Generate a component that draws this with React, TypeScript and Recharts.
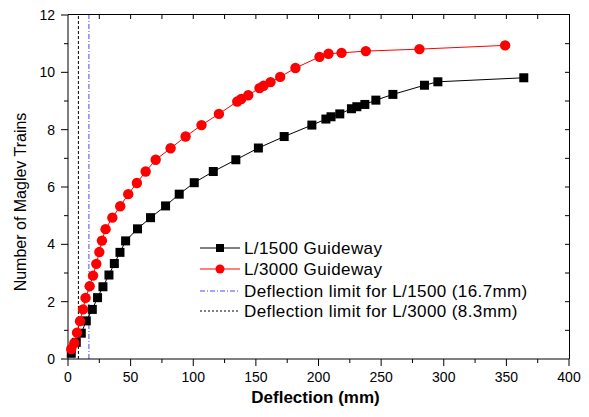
import React from 'react';
import { LineChart, Line, XAxis, YAxis, ReferenceLine } from 'recharts';

// L/1500 guideway (black squares)
const l1500X = [2.6, 6.6, 10.6, 14.6, 19.4, 23.6, 27.9, 32.7, 37, 41.5, 46, 55.5, 65.9, 77.9, 88.8, 100.8, 116, 134, 152, 172.6, 194.7, 205.9, 210, 217, 226.3, 230.6, 237, 245.8, 259.4, 284.6, 295.3, 363.9];
const l1500Y = [0.2, 0.58, 0.9, 1.33, 1.73, 2.14, 2.52, 2.93, 3.33, 3.72, 4.12, 4.54, 4.93, 5.34, 5.75, 6.15, 6.54, 6.95, 7.36, 7.76, 8.16, 8.37, 8.45, 8.55, 8.73, 8.8, 8.88, 9.03, 9.23, 9.55, 9.67, 9.81];

// L/3000 guideway (red circles)
const l3000X = [2.6, 5, 7.2, 9.6, 12, 14, 17.3, 20, 22.6, 25, 27.1, 30, 35.4, 41.7, 48.1, 55, 62, 70, 81.9, 93.9, 106.6, 120.5, 135.1, 138.3, 143.9, 152.9, 156.1, 161.7, 169.4, 181.6, 200.8, 208, 218.4, 237.8, 280.6, 349];
const l3000Y = [0.35, 0.55, 0.92, 1.32, 1.73, 2.13, 2.54, 2.91, 3.32, 3.73, 4.13, 4.53, 4.93, 5.33, 5.75, 6.14, 6.54, 6.95, 7.35, 7.76, 8.16, 8.55, 8.98, 9.07, 9.2, 9.45, 9.53, 9.66, 9.84, 10.15, 10.54, 10.65, 10.68, 10.74, 10.81, 10.94];

// Deflection limits (mm)
const limit1500 = 16.7;
const limit3000 = 8.3;

const X_MAX = 400;
const Y_MAX = 12;
const xTicks = [0, 25, 50, 75, 100, 125, 150, 175, 200, 225, 250, 275, 300, 325, 350, 375, 400];
const yTicks = [0, 1, 2, 3, 4, 5, 6, 7, 8, 9, 10, 11, 12];

const legendItems = [
  'L/1500 Guideway',
  'L/3000 Guideway',
  'Deflection limit for L/1500 (16.7mm)',
  'Deflection limit for L/3000 (8.3mm)',
];

const FONT = '"Liberation Sans", Arial, sans-serif';

const data1500 = l1500X.map((x, i) => ({ x, y: l1500Y[i] }));
const data3000 = l3000X.map((x, i) => ({ x, y: l3000Y[i] }));

// тики снизу: большие с подписью каждые 50, маленькие между
const BottomTick = (props: any) => {
  const { x, y, payload } = props;
  const major = payload.value % 50 === 0;
  return (
    <g>
      <line x1={x} x2={x} y1={y} y2={y + (major ? 7 : 4)} stroke="#000" />
      {major && (
        <text x={x} y={y + 23} textAnchor="middle" fontSize={14} fontFamily={FONT} fill="#000">
          {payload.value}
        </text>
      )}
    </g>
  );
};

const LeftTick = (props: any) => {
  const { x, y, payload } = props;
  const major = payload.value % 2 === 0;
  return (
    <g>
      <line x1={x} x2={x - (major ? 7 : 4)} y1={y} y2={y} stroke="#000" />
      {major && (
        <text x={x - 13} y={y + 5} textAnchor="end" fontSize={14} fontFamily={FONT} fill="#000">
          {payload.value}
        </text>
      )}
    </g>
  );
};

const SquareDot = (props: any) => {
  const { cx, cy, index } = props;
  return <rect key={`sq-${index}`} x={cx - 4.5} y={cy - 4.5} width={9} height={9} fill="#000" />;
};

const CircleDot = (props: any) => {
  const { cx, cy, index } = props;
  return <circle key={`ci-${index}`} cx={cx} cy={cy} r={5.2} fill="#ff0000" />;
};

const ChartLegend = () => (
  <svg width={360} height={90} style={{ position: 'absolute', left: 195, top: 236 }}>
    <line x1={5} x2={45} y1={12} y2={12} stroke="#000" />
    <rect x={21} y={8} width={8} height={8} fill="#000" />
    <line x1={5} x2={45} y1={33} y2={33} stroke="#ff0000" />
    <circle cx={25} cy={33} r={4.5} fill="#ff0000" />
    <line x1={5} x2={45} y1={55} y2={55} stroke="#4a4aff" strokeDasharray="5 2 1 2" />
    <line x1={5} x2={45} y1={75} y2={75} stroke="#000" strokeDasharray="2 2" />
    {legendItems.map((t, i) => (
      <text key={t} x={49} y={[12, 33, 55, 75][i] + 6} fontSize={17} letterSpacing={0.4} fontFamily={FONT} fill="#000">
        {t}
      </text>
    ))}
  </svg>
);

const App: React.FC = () => {
  return (
    <div style={{ position: 'absolute', left: 0, top: 0, width: 589, height: 417, background: '#fff' }}>
      <LineChart width={589} height={417} margin={{ top: 15, right: 20, left: 0, bottom: 0 }}>
        <XAxis
          type="number"
          dataKey="x"
          domain={[0, X_MAX]}
          ticks={xTicks}
          interval={0}
          height={58}
          tickSize={0}
          tickMargin={0}
          tickLine={false}
          tick={<BottomTick />}
          stroke="#000"
          label={{
            content: (p: any) => (
              <text x={p.viewBox.x + p.viewBox.width / 2 - 3} y={p.viewBox.y + 44} textAnchor="middle" fontSize={17} fontWeight="bold" fontFamily={FONT} fill="#000">
                Deflection (mm)
              </text>
            ),
          }}
        />
        <YAxis
          type="number"
          domain={[0, Y_MAX]}
          ticks={yTicks}
          interval={0}
          width={68}
          tickSize={0}
          tickMargin={0}
          tickLine={false}
          tick={<LeftTick />}
          stroke="#000"
          label={{
            content: (p: any) => {
              const cx = 20;
              const cy = p.viewBox.y + p.viewBox.height / 2 + 15;
              return (
                <text x={cx} y={cy} transform={`rotate(-90 ${cx} ${cy})`} textAnchor="middle" dominantBaseline="central" fontSize={16} fontFamily={FONT} fill="#000">
                  Number of Maglev Trains
                </text>
              );
            },
          }}
        />
        {/* тики внутрь рамки сверху и справа */}
        {xTicks.filter((v) => v > 0 && v < X_MAX).map((v) => (
          <ReferenceLine key={`tt-${v}`} segment={[{ x: v, y: Y_MAX }, { x: v, y: Y_MAX - 0.14 }]} stroke="#000" />
        ))}
        {yTicks.filter((v) => v > 0 && v < Y_MAX).map((v) => (
          <ReferenceLine key={`rt-${v}`} segment={[{ x: X_MAX, y: v }, { x: X_MAX - 3.2, y: v }]} stroke="#000" />
        ))}
        <ReferenceLine x={limit3000} stroke="#000" strokeDasharray="3 2" />
        <ReferenceLine x={limit1500} stroke="#4a4aff" strokeDasharray="5 2 1 2" />
        <Line data={data1500} dataKey="y" type="linear" stroke="#000" strokeWidth={1} dot={SquareDot} activeDot={false} isAnimationActive={false} />
        <Line data={data3000} dataKey="y" type="linear" stroke="#ff0000" strokeWidth={1} dot={CircleDot} activeDot={false} isAnimationActive={false} />
      </LineChart>
      {/* верхняя и правая стороны рамки поверх области графика */}
      <div
        style={{
          position: 'absolute',
          left: 68,
          top: 14,
          width: 502,
          height: 345,
          boxSizing: 'border-box',
          borderTop: '1px solid #000',
          borderRight: '1px solid #000',
          pointerEvents: 'none',
        }}
      />
      <ChartLegend />
    </div>
  );
};

export default App;
